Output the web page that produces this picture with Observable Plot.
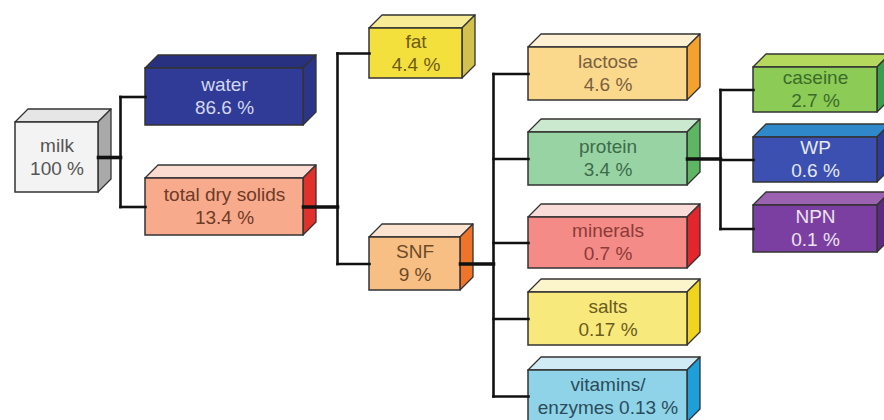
<!DOCTYPE html>
<html><head><meta charset="utf-8">
<script src="https://cdn.jsdelivr.net/npm/d3@7"></script>
<script src="https://cdn.jsdelivr.net/npm/@observablehq/plot@0.6"></script>
<style>body{margin:0;background:#fff}</style>
</head><body><div id="chart"></div>
<script>
// ---- data ----
const nodes    = ["milk","water","tds","fat","SNF","lactose","protein","minerals","salts","vitamins","caseine","WP","NPN"];
const labels   = ["milk","water","total dry solids","fat","SNF","lactose","protein","minerals","salts","vitamins/\nenzymes","caseine","WP","NPN"];
const percents = ["100 %","86.6 %","13.4 %","4.4 %","9 %","4.6 %","3.4 %","0.7 %","0.17 %","0.13 %","2.7 %","0.6 %","0.1 %"];
const parents  = [null,"milk","milk","tds","tds","SNF","SNF","SNF","SNF","SNF","protein","protein","protein"];

// ---- layout (front face x1,x2,y1,y2 in chart units) ----
const layout = {
  milk:[15,98,122,192], water:[145,303,68,125], tds:[145,303,178,235],
  fat:[369,462,28,78], SNF:[369,460,237,290],
  lactose:[528,687,47,100], protein:[528,687,132,185], minerals:[528,687,217,268],
  salts:[528,687,292,345], vitamins:[528,687,370,422],
  caseine:[753,877,67,112], WP:[753,877,137,182], NPN:[753,877,205,252]
};
const busX = {milk:120, tds:337, SNF:493, protein:720};
const D = 13;

// ---- styles ----
const style = {
  milk:{front:"#f3f3f3", top:"#e6e6e6", side:"#a9a9a9", ink:"#555555"},
  water:{front:"#2f3b96", top:"#27317f", side:"#2b3589", ink:"#d3d7f0"},
  tds:{front:"#f8ab8c", top:"#fbdacf", side:"#e2312b", ink:"#6e3a28"},
  fat:{front:"#f4e03c", top:"#f7ec95", side:"#d3c14e", ink:"#6d5c18"},
  SNF:{front:"#f8bf84", top:"#fce3cf", side:"#ee742c", ink:"#6c4a28"},
  lactose:{front:"#fbd98c", top:"#fdf0d3", side:"#f4a12e", ink:"#7a6040"},
  protein:{front:"#98d4a3", top:"#cae9cf", side:"#5db662", ink:"#3d6b4b"},
  minerals:{front:"#f48b86", top:"#f9dbd7", side:"#e4252c", ink:"#8c3a3a"},
  salts:{front:"#f8e97c", top:"#fcf5cb", side:"#f0d51c", ink:"#6a5b20"},
  vitamins:{front:"#8fd3e8", top:"#d0ebf4", side:"#1d9fda", ink:"#2c4b5b"},
  caseine:{front:"#8ccb56", top:"#b5d95c", side:"#3a9f4c", ink:"#3b6b2a"},
  WP:{front:"#3b50b0", top:"#2f88c9", side:"#2d3d99", ink:"#e6e8f5"},
  NPN:{front:"#7b3fa1", top:"#9c62b2", side:"#5b2b82", ink:"#ece3f3"}
};

// ---- derived tables ----
const boxes = nodes.map((id, i) => {
  const [x1, x2, y1, y2] = layout[id];
  const text = labels[i].includes("\n") ? labels[i] + " " + percents[i] : labels[i] + "\n" + percents[i];
  return {id, x1, x2, y1, y2, cx: (x1 + x2) / 2, cy: (y1 + y2) / 2, text, parent: parents[i]};
});
const byId = Object.fromEntries(boxes.map(b => [b.id, b]));

const topPts = boxes.flatMap(b => [
  {id: b.id, y: b.y1 - D, x1: b.x1 + D, x2: b.x2 + D},
  {id: b.id, y: b.y1, x1: b.x1, x2: b.x2}
]);
const sidePts = boxes.flatMap(b => [
  {id: b.id, x: b.x2, y1: b.y1, y2: b.y2},
  {id: b.id, x: b.x2 + D, y1: b.y1 - D, y2: b.y2 - D}
]);

const segs = [];
for (const p of Object.keys(busX)) {
  const pb = byId[p], bx = busX[p];
  const kids = boxes.filter(b => b.parent === p);
  segs.push({x1: pb.x2, y1: pb.cy, x2: bx, y2: pb.cy, w: 3.6});
  const ys = kids.map(k => k.cy);
  segs.push({x1: bx, y1: Math.min(...ys), x2: bx, y2: Math.max(...ys), w: 2.6});
  for (const k of kids) segs.push({x1: bx, y1: k.cy, x2: k.x1, y2: k.cy, w: 2.6});
}

const chart = Plot.plot({
  width: 884, height: 420,
  margin: 0,
  x: {domain: [0, 884], range: [0, 884], axis: null},
  y: {domain: [0, 420], range: [0, 420], axis: null},
  style: {background: "#fff"},
  marks: [
    Plot.areaX(topPts, {y: "y", x1: "x1", x2: "x2", z: "id", fill: d => style[d.id].top, stroke: "#333", strokeWidth: 1.3, strokeLinejoin: "round"}),
    Plot.areaY(sidePts, {x: "x", y1: "y1", y2: "y2", z: "id", fill: d => style[d.id].side, stroke: "#333", strokeWidth: 1.3, strokeLinejoin: "round"}),
    Plot.rect(boxes, {x1: "x1", x2: "x2", y1: "y1", y2: "y2", fill: d => style[d.id].front, stroke: "#333", strokeWidth: 1.5}),
    Plot.link(segs, {x1: "x1", y1: "y1", x2: "x2", y2: "y2", stroke: "#111", strokeWidth: "w", strokeLinecap: "square"}),
    Plot.text(boxes, {x: "cx", y: d => d.cy - 1.5, text: "text", fill: d => style[d.id].ink, fontSize: 19, lineHeight: 1.2, fontFamily: "Liberation Sans, Arial, sans-serif"})
  ]
});
document.getElementById("chart").appendChild(chart);
</script>
</body></html>
